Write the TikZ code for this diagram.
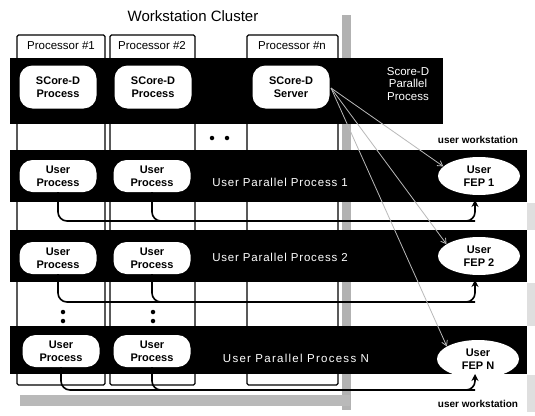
\documentclass[tikz,border=0pt]{standalone}
\usepackage{fontspec}
\setmainfont{Liberation Sans}
\usetikzlibrary{arrows.meta,shapes.geometric}
\begin{document}
\begin{tikzpicture}[x=1pt,y=-1pt,
  band/.style={fill=black,draw=none},
  col/.style={draw=black,fill=white,line width=1.1pt,rounded corners=1.5pt},
  plabel/.style={font=\fontsize{11.5}{13}\selectfont},
  oval/.style={fill=white,draw=none,rounded corners=13pt,minimum width=77pt,align=center,inner sep=0pt,font=\fontsize{11}{13}\selectfont\bfseries},
  fep/.style={ellipse,fill=white,draw=none,minimum width=82pt,minimum height=38pt,inner sep=0pt,align=center,font=\fontsize{11}{13}\selectfont\bfseries},
  bandtext/.style={text=white,font=\fontsize{11.5}{13}\selectfont\addfontfeature{LetterSpace=7}},
  conn/.style={draw=black,line width=1.6pt,rounded corners=9pt},
  ctrl/.style={draw=gray!55,line width=0.8pt,-{Straight Barb[length=5pt,width=6pt]}},
  dot/.style={circle,fill=black,inner sep=0pt,minimum size=4.5pt},
  ws/.style={font=\fontsize{10}{12}\selectfont\bfseries},
]
\useasboundingbox (0,0) rectangle (535,415);
\fill[white] (0,0) rectangle (535,415);

\node[font=\fontsize{15}{17}\selectfont] (title) at (193,16) {Workstation Cluster};

% gray separator bar
\fill[gray!60] (342,15) rectangle (351,410);

% processor columns
\draw[col] (17,35) rectangle (105,385);
\draw[col] (110,35) rectangle (195,385);
\draw[col] (247,35) rectangle (338,385);
\node[plabel] (p1) at (61,46) {Processor \#1};
\node[plabel] (p2) at (152,46) {Processor \#2};
\node[plabel] (pn) at (292,46) {Processor \#n};

% light gray right-edge strips and bottom strip
\fill[gray!25] (527,203) rectangle (535,230);
\fill[gray!25] (527,283) rectangle (535,326);
\fill[gray!25] (527,375) rectangle (535,412);
\fill[gray!55] (20,395) rectangle (350,406);

% bands
\fill[band] (10,58) rectangle (443,124);
\fill[band] (10,150) rectangle (527,202);
\fill[band] (10,230) rectangle (527,282);
\fill[band] (10,326) rectangle (527,374);

% ovals
\node[oval,minimum height=43pt] (s1) at (58,87) {SCore-D\\Process};
\node[oval,minimum height=43pt] (s2) at (153,87) {SCore-D\\Process};
\node[oval,minimum height=43pt] (srv) at (291,87) {SCore-D\\Server};
\node[text=white,align=center,font=\fontsize{11.5}{12.5}\selectfont] (sdpp) at (408,84) {Score-D\\Parallel\\Process};

\node[oval,minimum height=32pt] (u11) at (58,176) {User\\Process};
\node[oval,minimum height=32pt] (u12) at (152,176) {User\\Process};
\node[bandtext] (t1) at (280,182) {User Parallel Process 1};
\node[fep] (f1) at (479,176) {User\\FEP 1};

\node[oval,minimum height=32pt] (u21) at (58,258) {User\\Process};
\node[oval,minimum height=32pt] (u22) at (152,258) {User\\Process};
\node[bandtext] (t2) at (280,257) {User Parallel Process 2};
\node[fep] (f2) at (479,256) {User\\FEP 2};

\node[oval,minimum height=32pt] (u31) at (61,351) {User\\Process};
\node[oval,minimum height=32pt] (u32) at (152,351) {User\\Process};
\node[bandtext,font=\fontsize{11.5}{13}\selectfont\addfontfeature{LetterSpace=11}] (t3) at (296,358) {User Parallel Process N};
\node[fep] (f3) at (478,359) {User\\FEP N};

% dots
\node[dot] (d1) at (212,138) {};
\node[dot] (d2) at (227,138) {};
\node[dot] (d3) at (63,312) {};
\node[dot] (d4) at (63,321) {};
\node[dot] (d5) at (153,312) {};
\node[dot] (d6) at (153,321) {};

% user workstation labels
\node[ws] (w1) at (478,140) {user workstation};
\node[ws] (w2) at (478,404) {user workstation};

% connectors
\coordinate (h1) at (475,221);
\coordinate (h2) at (475,302);
\coordinate (h3) at (475,390);
\coordinate (e1) at (475,200);
\coordinate (e2) at (475,280);
\coordinate (e3) at (475,374);
\draw[conn] (u12.south) |- (h1);
\draw[conn,-{Stealth[length=7pt,width=7pt]}] (u11.south) |- (h1) -- (e1);
\draw[conn] (u22.south) |- (h2);
\draw[conn,-{Stealth[length=7pt,width=7pt]}] (u21.south) |- (h2) -- (e2);
\draw[conn] (u32.south) |- (h3);
\draw[conn,-{Stealth[length=7pt,width=7pt]}] (u31.south) |- (h3) -- (e3);

% control arrows from server
\coordinate (sv) at (331,88);
\draw[ctrl] (sv) -- (f1.165);
\draw[ctrl] (sv) -- (f2.160);
\draw[ctrl] (sv) -- (f3.158);
\end{tikzpicture}
\end{document}
